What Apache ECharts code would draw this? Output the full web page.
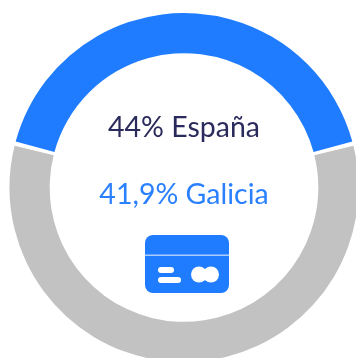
<!DOCTYPE html>
<html><head><meta charset="utf-8">
<style>html,body{margin:0;padding:0;background:#fff}#c{width:356px;height:358px}</style>
<script src="https://cdn.jsdelivr.net/npm/echarts@6/dist/echarts.min.js"></script>
</head><body><div id="c"></div>
<script>
const categories = ['Galicia', 'Resto'];
const values = [41.9, 58.1];
const labels = ['44% España', '41,9% Galicia'];
const BLUE = '#207cff', GREY = '#c2c2c2', NAVY = '#2b2a5c', LIGHT = '#2a80ff';
const chart = echarts.init(document.getElementById('c'), null, {renderer: 'canvas'});
const share = values[0] / (values[0] + values[1]);
chart.setOption({
  animation: false,
  series: [{
    type: 'pie', center: [184, 187.5], radius: [134.3, 174.5],
    startAngle: 90 + share * 180, clockwise: true, padAngle: 1.4,
    label: {show: false}, labelLine: {show: false}, silent: true,
    data: categories.map((n, i) => ({name: n, value: values[i], itemStyle: {color: i ? GREY : BLUE}}))
  }],
  graphic: [
    {type: 'text', x: 184, y: 128, style: {text: labels[0], font: '28.5px Lato', fill: NAVY, align: 'center', verticalAlign: 'middle'}},
    {type: 'text', x: 184, y: 195, style: {text: labels[1], font: '28.5px Lato', fill: LIGHT, align: 'center', verticalAlign: 'middle'}},
    {type: 'rect', shape: {x: 145, y: 235, width: 84, height: 58, r: 8}, style: {fill: BLUE}},
    {type: 'rect', shape: {x: 145, y: 254.5, width: 84, height: 1.5}, style: {fill: '#a9cbff'}},
    {type: 'rect', shape: {x: 158, y: 267, width: 16, height: 6, r: 3}, style: {fill: '#fff'}},
    {type: 'rect', shape: {x: 158, y: 277, width: 23, height: 6, r: 3}, style: {fill: '#fff'}},
    {type: 'circle', shape: {cx: 199, cy: 274.5, r: 8}, style: {fill: '#fff'}},
    {type: 'circle', shape: {cx: 211, cy: 274.5, r: 8}, style: {fill: '#fff'}}
  ]
});
</script></body></html>
